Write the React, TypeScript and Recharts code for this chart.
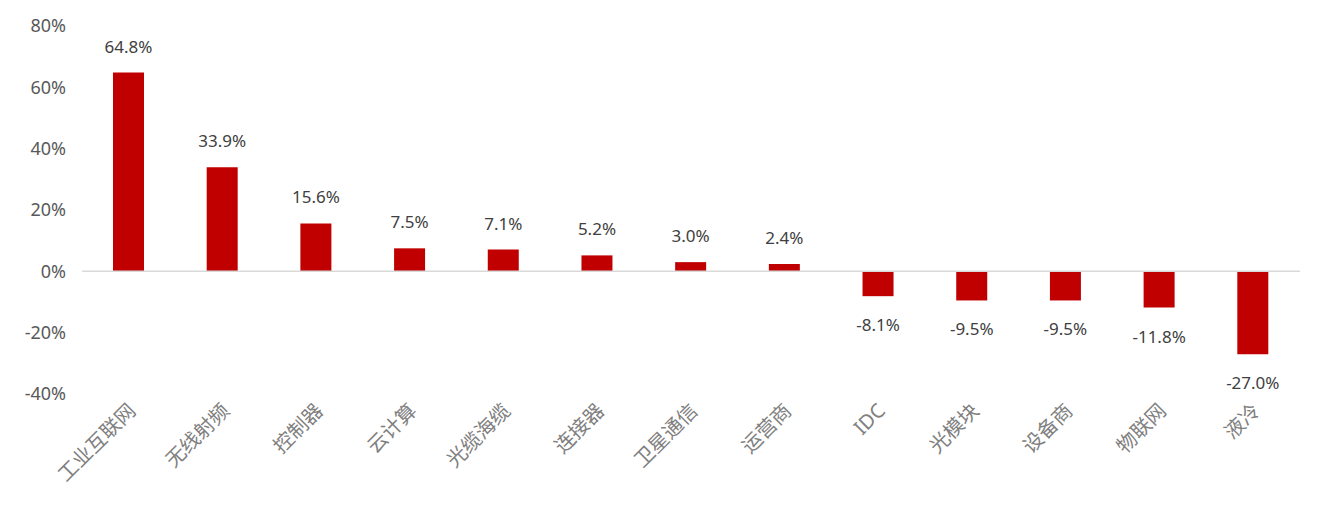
import React from "react";
import {
  BarChart,
  Bar,
  XAxis,
  YAxis,
  ReferenceLine,
  LabelList,
} from "recharts";

// categories and growth values (%)
const categories = [
  "工业互联网",
  "无线射频",
  "控制器",
  "云计算",
  "光缆海缆",
  "连接器",
  "卫星通信",
  "运营商",
  "IDC",
  "光模块",
  "设备商",
  "物联网",
  "液冷",
];
const growth = [64.8, 33.9, 15.6, 7.5, 7.1, 5.2, 3.0, 2.4, -8.1, -9.5, -9.5, -11.8, -27.0];
const yTicks = [-40, -20, 0, 20, 40, 60, 80];

const data = categories.map((name, i) => ({ name, value: growth[i] }));

const numFont = "'Noto Sans', 'Open Sans', sans-serif";
const cjkFont = "'Noto Sans CJK SC', sans-serif";

const CategoryTick = (props: any) => {
  const { x, y, payload } = props;
  return (
    <g transform={`translate(${x + 8},${y + 10})`}>
      <text
        x={0}
        y={0}
        textAnchor="end"
        transform="rotate(-45)"
        fill="#808080"
        fontSize={20}
        fontFamily={payload.value === "IDC" ? numFont : cjkFont}
      >
        {payload.value}
      </text>
    </g>
  );
};

const ValueLabel = (props: any) => {
  const { x, y, width, height, value } = props;
  const top = Math.min(y, y + height);
  const bottom = Math.max(y, y + height);
  const cx = x + width / 2;
  const ty = value >= 0 ? top - 20 : bottom + 35;
  return (
    <text x={cx} y={ty} textAnchor="middle" fill="#404040" fontSize={17} fontFamily={numFont}>
      {value.toFixed(1)}%
    </text>
  );
};

export default function App() {
  return (
    <div style={{ margin: -8, width: 1323, height: 522, background: "#fff" }}>
      <BarChart
        width={1323}
        height={522}
        data={data}
        margin={{ top: 26, right: 23, bottom: 0, left: 0 }}
      >
        <XAxis
          dataKey="name"
          axisLine={false}
          tickLine={false}
          interval={0}
          height={128}
          tick={<CategoryTick />}
        />
        <YAxis
          type="number"
          domain={[-40, 80]}
          ticks={yTicks}
          axisLine={false}
          tickLine={false}
          width={82}
          tickMargin={10}
          tick={{ fill: "#595959", fontSize: 18, fontFamily: numFont }}
          tickFormatter={(v: number) => `${v}%`}
        />
        <ReferenceLine y={0} stroke="#d9d9d9" strokeWidth={1.5} />
        <Bar dataKey="value" fill="#C00000" barSize={31} isAnimationActive={false}>
          <LabelList dataKey="value" content={<ValueLabel />} />
        </Bar>
      </BarChart>
    </div>
  );
}
